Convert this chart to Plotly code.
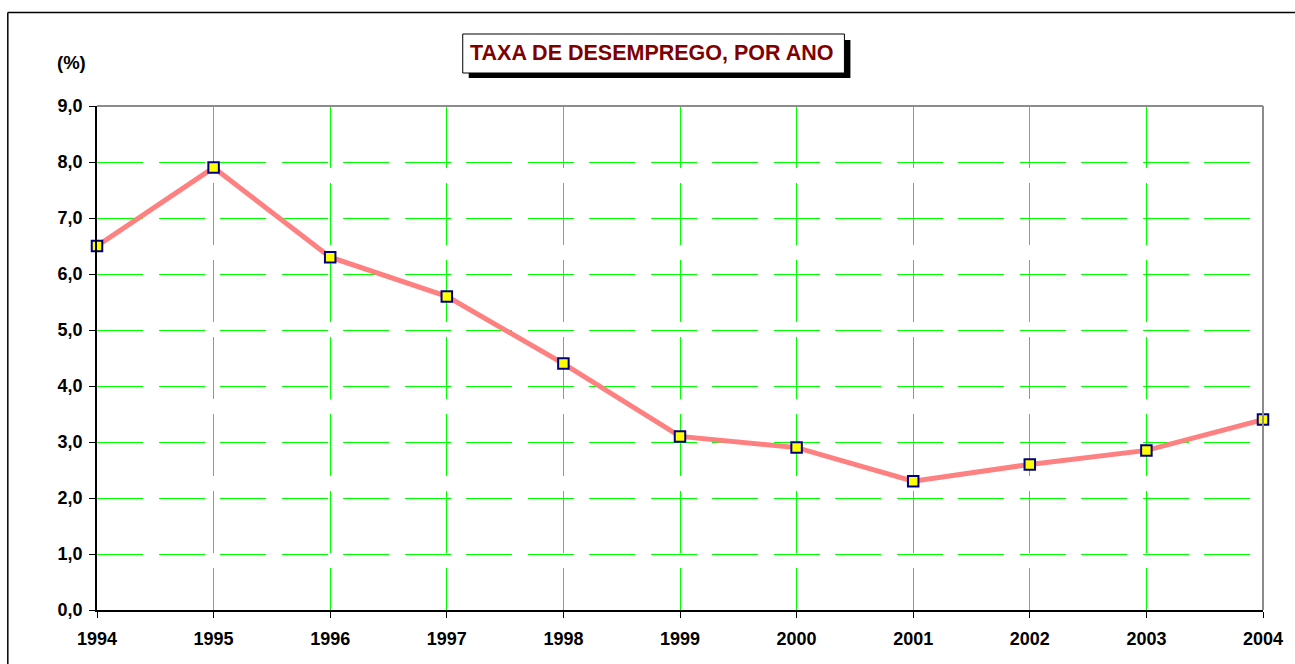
import plotly.graph_objects as go

years = [1994, 1995, 1996, 1997, 1998, 1999, 2000, 2001, 2002, 2003, 2004]
taxa = [6.5, 7.9, 6.3, 5.6, 4.4, 3.1, 2.9, 2.3, 2.6, 2.85, 3.4]
title_text = "TAXA DE DESEMPREGO, POR ANO"
y_label = "(%)"

W, H = 1295, 664
L, R, T, B = 97, 1267, 106, 610  # plot area in pixels


def px(x):
    return (x - L) / (R - L)


def py(y):
    return (B - y) / (B - T)


FONT = "Arial, 'Liberation Sans', sans-serif"

fig = go.Figure()
fig.add_trace(go.Scatter(
    x=years, y=taxa, mode="lines+markers",
    line=dict(color="#FF8080", width=5),
    marker=dict(symbol="square", size=10.5, color="#FFFF00",
                line=dict(color="#000080", width=2)),
    cliponaxis=False, showlegend=False,
))

shapes = [
    # plot area top and right borders (gray)
    dict(type="line", xref="paper", yref="paper", x0=0, x1=1, y0=1, y1=1,
         line=dict(color="#8C8C8C", width=2), layer="above"),
    dict(type="line", xref="paper", yref="paper", x0=1, x1=1, y0=0, y1=1,
         line=dict(color="#8C8C8C", width=2), layer="above"),
    # outer chart frame
    dict(type="line", xref="paper", yref="paper", x0=px(7.5), x1=px(W + 5),
         y0=py(12.5), y1=py(12.5), line=dict(color="black", width=1.5)),
    dict(type="line", xref="paper", yref="paper", x0=px(7.5), x1=px(7.5),
         y0=py(12.5), y1=py(H + 5), line=dict(color="black", width=1.5)),
    # title shadow and box
    dict(type="rect", xref="paper", yref="paper", x0=px(470), x1=px(853),
         y0=py(40), y1=py(78), fillcolor="black", line=dict(width=0)),
    dict(type="rect", xref="paper", yref="paper", x0=px(464), x1=px(847),
         y0=py(34), y1=py(73), fillcolor="white",
         line=dict(color="black", width=1)),
]

annotations = [
    dict(text="<b>" + title_text + "</b>", xref="paper", yref="paper",
         x=px(654), y=py(53.5), xanchor="center", yanchor="middle",
         showarrow=False, font=dict(family=FONT, size=21.5, color="#800000")),
    dict(text="<b>" + y_label + "</b>", xref="paper", yref="paper",
         x=px(71), y=py(62), xanchor="center", yanchor="middle",
         showarrow=False, font=dict(family=FONT, size=18.5, color="black")),
]

fig.update_layout(
    width=W, height=H, autosize=False,
    margin=dict(l=L, r=W - R, t=T, b=H - B, pad=0),
    paper_bgcolor="white", plot_bgcolor="white",
    separators=",.",
    shapes=shapes, annotations=annotations,
    font=dict(family=FONT, size=18, color="black"),
)
fig.update_xaxes(
    range=[1994, 2004], tickmode="array", tickvals=years,
    ticktext=["<b>%d</b>" % y for y in years],
    showline=True, linecolor="black", linewidth=1.5,
    ticks="outside", ticklen=6, tickcolor="black", tickwidth=1,
    ticklabelstandoff=6,
    showgrid=True, gridcolor="#00FF00", gridwidth=1, griddash="62px,15px",
    zeroline=False, fixedrange=True,
)
fig.update_yaxes(
    range=[0, 9], tickmode="array", tickvals=list(range(10)),
    ticktext=["<b>%s</b>" % ("%.1f" % v).replace(".", ",") for v in range(10)],
    showline=True, linecolor="black", linewidth=1.5,
    ticks="outside", ticklen=6, tickcolor="black", tickwidth=1,
    ticklabelstandoff=3,
    showgrid=True, gridcolor="#00FF00", gridwidth=1, griddash="46px,15.5px",
    zeroline=False, fixedrange=True,
)

fig.write_html("out.html", config={"displayModeBar": False},
               post_script="document.body.style.margin='0';")
